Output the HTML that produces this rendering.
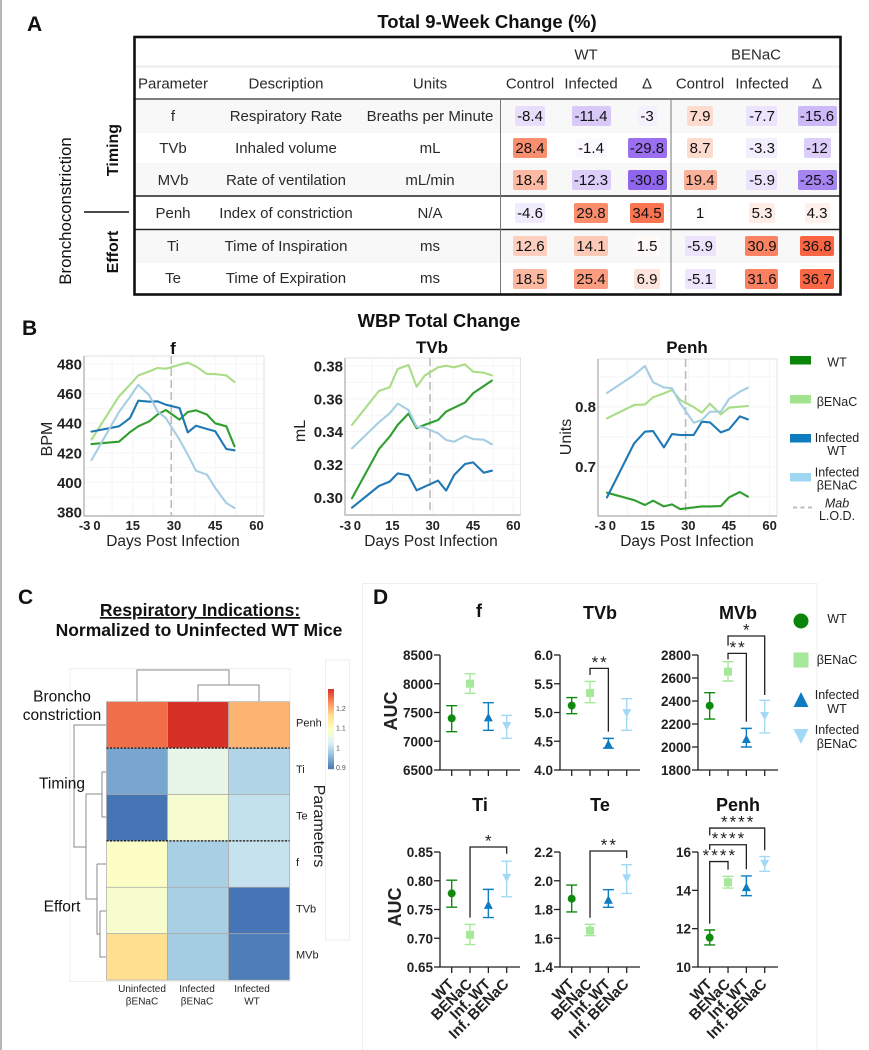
<!DOCTYPE html>
<html lang="en">
<head>
<meta charset="utf-8">
<title>Respiratory figure</title>
<style>
html,body{margin:0;padding:0;background:#fff;}
svg{display:block;font-family:"Liberation Sans",sans-serif;fill:#222;}
.c{text-anchor:middle;}
.r{text-anchor:end;}
.t{font-size:15px;text-anchor:middle;fill:#2a2a2a;}
.n{font-size:15px;text-anchor:middle;fill:#111;}
.panel{font-size:21px;font-weight:bold;fill:#111;}
.ttl{font-weight:bold;text-anchor:middle;fill:#111;}
.lg{font-size:12.5px;text-anchor:middle;fill:#222;}
.hl{font-size:11px;fill:#222;}
</style>
</head>
<body>
<svg id="fig" width="869" height="1050" viewBox="0 0 869 1050" xmlns="http://www.w3.org/2000/svg">
<rect width="869" height="1050" fill="#fff"/>
<rect x="0" y="0" width="2" height="1050" fill="#b8b8b8"/>

<!-- PANEL A -->
<text class="panel" x="27" y="31">A</text>
<text class="ttl" x="487" y="28" font-size="18.5">Total 9-Week Change (%)</text>
<g fill="#f8f8f8">
<rect x="136" y="100" width="704" height="31"/>
<rect x="136" y="165" width="704" height="30"/>
<rect x="136" y="231" width="704" height="31"/>
</g>
<g>
<line x1="136" x2="840" y1="66.5" y2="66.5" stroke="#ececec" stroke-width="2"/>
<line x1="136" x2="840" y1="132" y2="132" stroke="#efefef" stroke-width="1"/>
<line x1="136" x2="840" y1="164" y2="164" stroke="#efefef" stroke-width="1"/>
<line x1="136" x2="840" y1="262" y2="262" stroke="#efefef" stroke-width="1"/>
<line x1="135" x2="840" y1="99" y2="99" stroke="#333" stroke-width="1.2"/>
<line x1="135" x2="840" y1="196" y2="196" stroke="#222" stroke-width="1.4"/>
<line x1="135" x2="840" y1="229.5" y2="229.5" stroke="#222" stroke-width="1.4"/>
<line x1="500.5" x2="500.5" y1="99" y2="294" stroke="#777" stroke-width="1"/>
<line x1="671" x2="671" y1="99" y2="294" stroke="#777" stroke-width="1"/>
</g>
<rect x="134.5" y="37" width="706" height="257.5" fill="none" stroke="#111" stroke-width="2.6"/>

<g>
<text class="t" x="586" y="59.5">WT</text>
<text class="t" x="756" y="59.5">BENaC</text>
</g>
<g>
<text class="t" x="173" y="88.5">Parameter</text>
<text class="t" x="286" y="88.5">Description</text>
<text class="t" x="430" y="88.5">Units</text>
<text class="t" x="530" y="88.5">Control</text>
<text class="t" x="591" y="88.5">Infected</text>
<text class="t" x="647" y="88.5">Δ</text>
<text class="t" x="700" y="88.5">Control</text>
<text class="t" x="762" y="88.5">Infected</text>
<text class="t" x="817" y="88.5">Δ</text>
</g>

<g>
<text class="t" x="173" y="121">f</text><text class="t" x="286" y="121">Respiratory Rate</text><text class="t" x="430" y="121">Breaths per Minute</text>
<rect x="515" y="106" width="30" height="20" rx="2" fill="#e7defb"/><text class="n" x="530" y="121">-8.4</text>
<rect x="572" y="106" width="39" height="20" rx="2" fill="#d9c9f9"/><text class="n" x="591" y="121">-11.4</text>
<rect x="638" y="106" width="19" height="20" rx="2" fill="#f5f0fe"/><text class="n" x="647" y="121">-3</text>
<rect x="687" y="106" width="26" height="20" rx="2" fill="#fddccf"/><text class="n" x="700" y="121">7.9</text>
<rect x="746" y="106" width="31" height="20" rx="2" fill="#ece3fc"/><text class="n" x="762" y="121">-7.7</text>
<rect x="798" y="106" width="39" height="20" rx="2" fill="#cdb9f7"/><text class="n" x="817" y="121">-15.6</text>
</g>
<g>
<text class="t" x="173" y="153">TVb</text><text class="t" x="286" y="153">Inhaled volume</text><text class="t" x="430" y="153">mL</text>
<rect x="513" y="138" width="34" height="20" rx="2" fill="#fa8f70"/><text class="n" x="530" y="153">28.4</text>
<rect x="576" y="138" width="31" height="20" rx="2" fill="#fbf9ff"/><text class="n" x="591" y="153">-1.4</text>
<rect x="628" y="138" width="39" height="20" rx="2" fill="#9a70f0"/><text class="n" x="647" y="153">-29.8</text>
<rect x="687" y="138" width="26" height="20" rx="2" fill="#fddbce"/><text class="n" x="700" y="153">8.7</text>
<rect x="746" y="138" width="31" height="20" rx="2" fill="#f3eefe"/><text class="n" x="762" y="153">-3.3</text>
<rect x="804" y="138" width="27" height="20" rx="2" fill="#dccdf9"/><text class="n" x="817" y="153">-12</text>
</g>
<g>
<text class="t" x="173" y="185">MVb</text><text class="t" x="286" y="185">Rate of ventilation</text><text class="t" x="430" y="185">mL/min</text>
<rect x="513" y="170" width="34" height="20" rx="2" fill="#fdb9a3"/><text class="n" x="530" y="185">18.4</text>
<rect x="572" y="170" width="39" height="20" rx="2" fill="#dccdf9"/><text class="n" x="591" y="185">-12.3</text>
<rect x="628" y="170" width="39" height="20" rx="2" fill="#9166ee"/><text class="n" x="647" y="185">-30.8</text>
<rect x="684" y="170" width="33" height="20" rx="2" fill="#fcb29a"/><text class="n" x="700" y="185">19.4</text>
<rect x="746" y="170" width="31" height="20" rx="2" fill="#ece4fc"/><text class="n" x="762" y="185">-5.9</text>
<rect x="798" y="170" width="39" height="20" rx="2" fill="#a684f1"/><text class="n" x="817" y="185">-25.3</text>
</g>
<g>
<text class="t" x="173" y="218">Penh</text><text class="t" x="286" y="218">Index of constriction</text><text class="t" x="430" y="218">N/A</text>
<rect x="515" y="203" width="30" height="20" rx="2" fill="#f1ebfe"/><text class="n" x="530" y="218">-4.6</text>
<rect x="574" y="203" width="34" height="20" rx="2" fill="#fb8c6c"/><text class="n" x="591" y="218">29.8</text>
<rect x="630" y="203" width="34" height="20" rx="2" fill="#fb7452"/><text class="n" x="647" y="218">34.5</text>
<rect x="695" y="203" width="12" height="20" rx="2" fill="#fffcfb"/><text class="n" x="700" y="218">1</text>
<rect x="749" y="203" width="26" height="20" rx="2" fill="#feece6"/><text class="n" x="762" y="218">5.3</text>
<rect x="805" y="203" width="25" height="20" rx="2" fill="#fef0ea"/><text class="n" x="817" y="218">4.3</text>
</g>
<g>
<text class="t" x="173" y="251">Ti</text><text class="t" x="286" y="251">Time of Inspiration</text><text class="t" x="430" y="251">ms</text>
<rect x="513" y="236" width="34" height="20" rx="2" fill="#fecfbf"/><text class="n" x="530" y="251">12.6</text>
<rect x="574" y="236" width="34" height="20" rx="2" fill="#fdc9b7"/><text class="n" x="591" y="251">14.1</text>
<rect x="634" y="236" width="26" height="20" rx="2" fill="#fffaf8"/><text class="n" x="647" y="251">1.5</text>
<rect x="685" y="236" width="31" height="20" rx="2" fill="#ece4fc"/><text class="n" x="700" y="251">-5.9</text>
<rect x="745" y="236" width="33" height="20" rx="2" fill="#fb8363"/><text class="n" x="762" y="251">30.9</text>
<rect x="800" y="236" width="34" height="20" rx="2" fill="#fa6442"/><text class="n" x="817" y="251">36.8</text>
</g>
<g>
<text class="t" x="173" y="283">Te</text><text class="t" x="286" y="283">Time of Expiration</text><text class="t" x="430" y="283">ms</text>
<rect x="513" y="269" width="34" height="20" rx="2" fill="#fdb8a2"/><text class="n" x="530" y="284">18.5</text>
<rect x="574" y="269" width="34" height="20" rx="2" fill="#fc9c80"/><text class="n" x="591" y="284">25.4</text>
<rect x="634" y="269" width="26" height="20" rx="2" fill="#fde3da"/><text class="n" x="647" y="284">6.9</text>
<rect x="685" y="269" width="31" height="20" rx="2" fill="#eee6fd"/><text class="n" x="700" y="284">-5.1</text>
<rect x="745" y="269" width="33" height="20" rx="2" fill="#fb8060"/><text class="n" x="762" y="284">31.6</text>
<rect x="800" y="269" width="34" height="20" rx="2" fill="#fa6744"/><text class="n" x="817" y="284">36.7</text>
</g>

<text class="c" transform="translate(71,211) rotate(-90)" font-size="16.8" fill="#111">Bronchoconstriction</text>
<text class="ttl" transform="translate(118,150) rotate(-90)" font-size="16">Timing</text>
<text class="ttl" transform="translate(118,252) rotate(-90)" font-size="16">Effort</text>
<line x1="84" x2="129" y1="212" y2="212" stroke="#111" stroke-width="1.6"/>

<!-- PANEL B -->
<text class="panel" x="22" y="335">B</text>
<text class="ttl" x="439" y="327" font-size="18.4">WBP Total Change</text>
<g id="lineCharts"></g>
<text class="ttl" x="173" y="354" font-size="17">f</text>
<text class="ttl" x="432" y="353" font-size="17">TVb</text>
<text class="ttl" x="687" y="353" font-size="17">Penh</text>
<text class="c" transform="translate(52,439) rotate(-90)" font-size="16">BPM</text>
<text class="c" transform="translate(305,431) rotate(-90)" font-size="16">mL</text>
<text class="c" transform="translate(571,437) rotate(-90)" font-size="16">Units</text>
<text class="c" x="173" y="546" font-size="15.5">Days Post Infection</text>
<text class="c" x="431" y="546" font-size="15.5">Days Post Infection</text>
<text class="c" x="687" y="546" font-size="15.5">Days Post Infection</text>

<g>
<rect x="790" y="356" width="21" height="8.5" fill="#0a850a"/>
<text class="lg" x="837" y="366.5">WT</text>
<rect x="790" y="395" width="21" height="8.5" fill="#a3e38f"/>
<text class="lg" x="837" y="406">βENaC</text>
<rect x="790" y="434" width="21" height="8.5" fill="#0f7cc0"/>
<text class="lg" x="837" y="442">Infected</text>
<text class="lg" x="837" y="455">WT</text>
<rect x="790" y="473" width="21" height="8.5" fill="#a0d6f2"/>
<text class="lg" x="837" y="476.5">Infected</text>
<text class="lg" x="837" y="489.5">βENaC</text>
<line x1="793" x2="812" y1="507.5" y2="507.5" stroke="#bdbdbd" stroke-width="2" stroke-dasharray="4 3.5"/>
<text class="lg" x="837" y="507.5" font-style="italic">Mab</text>
<text class="lg" x="837" y="520">L.O.D.</text>
</g>

<!-- PANEL C -->
<text class="panel" x="18" y="604">C</text>
<text class="ttl" x="200" y="616" font-size="17.5" text-decoration="underline">Respiratory Indications:</text>
<text class="ttl" x="199" y="636" font-size="17.5">Normalized to Uninfected WT Mice</text>
<rect x="70" y="668.5" width="220" height="313" fill="none" stroke="#eeeeee"/>
<rect x="325.5" y="660" width="24" height="280" fill="none" stroke="#eeeeee"/>
<path d="M137 701V670H229V685M198 701V685H259V701" fill="none" stroke="#888" stroke-width="1"/>
<path d="M106 725H74V847H86M86 794H102M106 772H102V817H106M86 794V899H97M97 864H106M97 864V934H100M100 911H106M100 911V957H106" fill="none" stroke="#888" stroke-width="1"/>
<g id="heat"></g>
<g font-size="15.5" fill="#111">
<text class="c" x="62" y="701.5">Broncho</text>
<text class="c" x="62" y="720">constriction</text>
<text class="c" x="62" y="788.5">Timing</text>
<text class="c" x="62" y="911.5">Effort</text>
</g>
<text class="c" transform="translate(314,826) rotate(90)" font-size="16">Parameters</text>

<!-- PANEL D -->
<path d="M362.5 1050V583.5H817V1050" fill="none" stroke="#efefef"/>
<text class="panel" x="373" y="604">D</text>
<g id="dots"></g>
<text class="c" transform="translate(397,711) rotate(-90)" font-size="18" font-weight="bold">AUC</text>
<text class="c" transform="translate(401,907) rotate(-90)" font-size="18" font-weight="bold">AUC</text>
<g>
<circle cx="801" cy="621" r="7.5" fill="#0a850a"/>
<text class="lg" x="837" y="623">WT</text>
<rect x="793.5" y="652.5" width="15" height="15" fill="#a6e89a"/>
<text class="lg" x="837" y="664">βENaC</text>
<path d="M801 692L808.5 707H793.5Z" fill="#0f7cc2"/>
<text class="lg" x="837" y="699">Infected</text>
<text class="lg" x="837" y="713">WT</text>
<path d="M793.5 729H808.5L801 744Z" fill="#a3d9f7"/>
<text class="lg" x="837" y="734">Infected</text>
<text class="lg" x="837" y="748">βENaC</text>
</g>

<script>
/* ---------- Panel B data ---------- */
var days = [0, 10, 14, 17, 21, 24, 27, 32, 35, 38, 42, 45, 49, 52];
var lodDay = 29;
var xTickLabels = ['-3', '0', '15', '30', '45', '60'];
var xTickAt = [-2.5, 2, 15, 30, 45, 60];

var fWT = [425.9, 427.5, 434, 437.9, 441.3, 445.8, 448.9, 442.4, 447.6, 448.7, 445.8, 439.9, 437.9, 424.4];
var fBenac = [428.9, 458.2, 466, 472.3, 475, 477.3, 476.8, 479.5, 480.9, 478.4, 473.2, 473.2, 472.3, 467.8];
var fInfWT = [434.3, 437.9, 443.5, 455.2, 454.5, 454.8, 452.5, 450.3, 433.8, 438.3, 436.1, 434.5, 422.6, 421.7];
var fInfBenac = [415.1, 447.6, 457.7, 466, 458.8, 448, 443.5, 428.9, 418.7, 407.9, 405.2, 396.2, 386.1, 382.7];
var fYTicks = [380, 400, 420, 440, 460, 480];

var tvbWT = [0.2994, 0.3294, 0.337, 0.3441, 0.351, 0.3421, 0.3441, 0.3471, 0.3522, 0.3546, 0.3577, 0.3634, 0.3678, 0.3711];
var tvbBenac = [0.3441, 0.3648, 0.367, 0.3782, 0.3806, 0.3674, 0.3741, 0.3792, 0.3802, 0.3792, 0.381, 0.3765, 0.3759, 0.3743];
var tvbInfWT = [0.2937, 0.3069, 0.3096, 0.3146, 0.3134, 0.3043, 0.3065, 0.3102, 0.3041, 0.3136, 0.3203, 0.3213, 0.315, 0.3162];
var tvbInfBenac = [0.3298, 0.3457, 0.3512, 0.3571, 0.3532, 0.343, 0.3425, 0.339, 0.3349, 0.3339, 0.3374, 0.3355, 0.3351, 0.3323];
var tvbYTicks = [0.30, 0.32, 0.34, 0.36, 0.38];

var penhWT = [0.6567, 0.6444, 0.6361, 0.6433, 0.6339, 0.6372, 0.6294, 0.6322, 0.6339, 0.6339, 0.6344, 0.6489, 0.6578, 0.65];
var penhBenac = [0.7806, 0.8028, 0.8039, 0.8156, 0.8222, 0.8278, 0.8111, 0.7994, 0.79, 0.805, 0.7872, 0.7983, 0.8, 0.8011];
var penhInfWT = [0.6489, 0.7389, 0.7583, 0.7594, 0.7322, 0.7544, 0.7528, 0.7528, 0.775, 0.7739, 0.7572, 0.7622, 0.7839, 0.7789];
var penhInfBenac = [0.8228, 0.8528, 0.8678, 0.8406, 0.8322, 0.8306, 0.8056, 0.7733, 0.7778, 0.7917, 0.7917, 0.8128, 0.825, 0.8317];
var penhYTicks = [0.7, 0.8];

/* ---------- Panel C data ---------- */
var heatRows = ['Penh', 'Ti', 'Te', 'f', 'TVb', 'MVb'];
var heatCols = [['Uninfected', 'βENaC'], ['Infected', 'βENaC'], ['Infected', 'WT']];
var heatPenh = [1.25, 1.295, 1.197];
var heatTi = [0.935, 1.042, 0.985];
var heatTe = [0.89, 1.072, 1.0];
var heatF = [1.085, 0.978, 1.003];
var heatTVb = [1.076, 0.978, 0.89];
var heatMVb = [1.16, 0.974, 0.898];
var colorbarTicks = [0.9, 1, 1.1, 1.2];
var colorStops = ['#4575b4', '#91bfdb', '#e0f3f8', '#ffffbf', '#fee090', '#fc8d59', '#d73027'];

/* ---------- Panel D data ---------- */
var groups = ['WT', 'BENaC', 'Inf. WT', 'Inf. BENaC'];
var aucF = [7399, 8001, 7416, 7265];
var aucFLow = [7167, 7833, 7190, 7051];
var aucFHigh = [7619, 8175, 7671, 7450];
var aucFTicks = ['6500', '7000', '7500', '8000', '8500'];

var aucTVb = [5.12, 5.34, 4.45, 4.99];
var aucTVbLow = [4.98, 5.17, 4.38, 4.69];
var aucTVbHigh = [5.26, 5.54, 4.55, 5.24];
var aucTVbTicks = ['4.0', '4.5', '5.0', '5.5', '6.0'];

var aucMVb = [2359, 2655, 2070, 2270];
var aucMVbLow = [2243, 2574, 2000, 2122];
var aucMVbHigh = [2472, 2742, 2162, 2406];
var aucMVbTicks = ['1800', '2000', '2200', '2400', '2600', '2800'];

var aucTi = [0.778, 0.706, 0.758, 0.805];
var aucTiLow = [0.754, 0.689, 0.736, 0.772];
var aucTiHigh = [0.801, 0.724, 0.785, 0.834];
var aucTiTicks = ['0.65', '0.70', '0.75', '0.80', '0.85'];

var aucTe = [1.875, 1.653, 1.868, 2.017];
var aucTeLow = [1.783, 1.618, 1.815, 1.912];
var aucTeHigh = [1.97, 1.697, 1.938, 2.112];
var aucTeTicks = ['1.4', '1.6', '1.8', '2.0', '2.2'];

var aucPenh = [11.53, 14.42, 14.17, 15.39];
var aucPenhLow = [11.15, 14.12, 13.72, 14.99];
var aucPenhHigh = [11.93, 14.73, 14.75, 15.76];
var aucPenhTicks = ['10', '12', '14', '16'];

/* brackets: from group, to group, stars, top value, left end value, right end value */
var sigTVb = [[1, 2, '**', 5.768, 5.652, 4.667]];
var sigMVb = [[1, 3, '*', 2965, 2881, 2452], [1, 2, '**', 2814, 2762, 2220]];
var sigTi = [[1, 3, '*', 0.8587, 0.7358, 0.847]];
var sigTe = [[1, 3, '**', 2.207, 1.743, 2.158]];
var sigPenh = [[0, 3, '****', 17.25, 16.87, 16.09], [0, 2, '****', 16.38, 16.12, 15.1], [0, 1, '****', 15.5, 12.26, 15.08]];

/* ---------- helpers ---------- */
var NS = 'http://www.w3.org/2000/svg';
function mk(tag, parent, attrs, text) {
  var el = document.createElementNS(NS, tag);
  for (var k in attrs) el.setAttribute(k, attrs[k]);
  if (text !== undefined) el.textContent = text;
  parent.appendChild(el);
  return el;
}
var lineColors = ['#2f9e2f', '#a9dd87', '#1f78b4', '#a6cee3'];
var dotColors = ['#0f8a0f', '#a6e89a', '#0f7cc2', '#a3d9f7'];

/* ---------- line charts ---------- */
function drawLineChart(root, cfg) {
  var x = function (d) { return cfg.x0 + cfg.k * d; };
  var y = function (v) { return cfg.yA + (cfg.vA - v) * cfg.yScale; };
  var g = mk('g', root, {});
  
  

  for (var i = 0; i < cfg.gridV.length; i++) {
    var gv = mk('line', g, { x1: x(cfg.gridV[i]), x2: x(cfg.gridV[i]), y1: cfg.top, y2: cfg.bottom, stroke: '#f5f5f5', 'stroke-width': 1 });
    
    
  }
  for (var j = 0; j < cfg.gridH.length; j++) {
    var gh = mk('line', g, { x1: cfg.left, x2: cfg.right, y1: y(cfg.gridH[j]), y2: y(cfg.gridH[j]), stroke: '#f5f5f5', 'stroke-width': 1 });
    
    
  }
  var frame = mk('path', g, { d: 'M' + cfg.left + ' ' + cfg.top + 'H' + cfg.right + 'V' + cfg.bottom, fill: 'none', stroke: '#e2e2e2', 'stroke-width': 1 });
  
  
  var ax = mk('path', g, { d: 'M' + cfg.left + ' ' + cfg.top + 'V' + cfg.bottom + 'H' + cfg.right, fill: 'none', stroke: '#aaa', 'stroke-width': 1.2 });
  
  

  var lod = mk('line', g, { x1: x(lodDay), x2: x(lodDay), y1: cfg.top, y2: cfg.bottom, stroke: '#bdbdbd', 'stroke-width': 1.6, 'stroke-dasharray': '8 4' });
  
  

  for (var s = 0; s < cfg.series.length; s++) {
    var pts = cfg.series[s].map(function (v, idx) { return x(days[idx]).toFixed(1) + ',' + y(v).toFixed(1); }).join(' ');
    var line = mk('polyline', g, { points: pts, fill: 'none', stroke: lineColors[s], 'stroke-width': 2.1, 'stroke-linejoin': 'round', 'stroke-linecap': 'round' });
    
    
  }
  for (var t = 0; t < cfg.yTicks.length; t++) {
    var yl = mk('text', g, { x: cfg.left - 2, y: y(cfg.yTicks[t]) + 5.5, class: 'r', 'font-size': 15, 'font-weight': 'bold' }, cfg.yFmt(cfg.yTicks[t]));
    
    
  }
  for (var u = 0; u < xTickLabels.length; u++) {
    var xl = mk('text', g, { x: x(xTickAt[u]), y: 530, class: 'c', 'font-size': 13, 'font-weight': 'bold' }, xTickLabels[u]);
    
    
  }
}
var lc = document.getElementById('lineCharts');
var dayGrid = [7.5, 15, 22.5, 30, 37.5, 45, 52.5, 60];
drawLineChart(lc, { x0: 91.5, k: 2.75, left: 84, right: 264, top: 356, bottom: 516, yA: 364, vA: 480, yScale: 1.48,
  gridV: dayGrid, gridH: [390, 400, 410, 420, 430, 440, 450, 460, 470, 480], yTicks: fYTicks,
  yFmt: function (v) { return String(v); }, series: [fWT, fBenac, fInfWT, fInfBenac] });
drawLineChart(lc, { x0: 352, k: 2.69, left: 345, right: 520.5, top: 358, bottom: 515, yA: 366, vA: 0.38, yScale: 1641.7,
  gridV: dayGrid, gridH: [0.30, 0.31, 0.32, 0.33, 0.34, 0.35, 0.36, 0.37, 0.38], yTicks: tvbYTicks,
  yFmt: function (v) { return v.toFixed(2); }, series: [tvbWT, tvbBenac, tvbInfWT, tvbInfBenac] });
drawLineChart(lc, { x0: 607, k: 2.71, left: 598, right: 777, top: 359, bottom: 516, yA: 406.7, vA: 0.8, yScale: 600,
  gridV: dayGrid, gridH: [0.65, 0.7, 0.75, 0.8, 0.85], yTicks: penhYTicks,
  yFmt: function (v) { return v.toFixed(1); }, series: [penhWT, penhBenac, penhInfWT, penhInfBenac] });

/* ---------- heatmap ---------- */
function hexRgb(h) { return [parseInt(h.substr(1, 2), 16), parseInt(h.substr(3, 2), 16), parseInt(h.substr(5, 2), 16)]; }
var cbLow = 0.89, cbHigh = 1.295;
function heatColor(v) {
  var p = (v - cbLow) / (cbHigh - cbLow) * (colorStops.length - 1);
  p = Math.max(0, Math.min(colorStops.length - 1.0001, p));
  var i = Math.floor(p), f = p - i, a = hexRgb(colorStops[i]), b = hexRgb(colorStops[i + 1]);
  return 'rgb(' + Math.round(a[0] + (b[0] - a[0]) * f) + ',' + Math.round(a[1] + (b[1] - a[1]) * f) + ',' + Math.round(a[2] + (b[2] - a[2]) * f) + ')';
}
var heatData = [heatPenh, heatTi, heatTe, heatF, heatTVb, heatMVb];
var heat = document.getElementById('heat');
var hL = 106.5, hW = 61, hT = 701.7, hH = 46.4;
heatData.forEach(function (row, r) {
  row.forEach(function (v, c) {
    var cell = mk('rect', heat, { x: hL + c * hW, y: hT + r * hH, width: hW, height: hH, fill: heatColor(v), stroke: '#a9a9a9', 'stroke-width': 0.7 });
    
    
  });
  var rl = mk('text', heat, { x: 296, y: hT + r * hH + 25, class: 'hl' }, heatRows[r]);
  
  
});
[1, 3].forEach(function (r) {
  var d = mk('line', heat, { x1: hL, x2: hL + 3 * hW, y1: hT + r * hH, y2: hT + r * hH, stroke: '#111', 'stroke-width': 1.2, 'stroke-dasharray': '2 1.5' });
  
  
});
var colOffset = [142, 197, 252];
heatCols.forEach(function (c, i) {
  c.forEach(function (word, w) {
    var cl = mk('text', heat, { x: colOffset[i], y: 992 + w * 12.5, class: 'c', 'font-size': 10 }, word);
    
    
  });
});
var cbTop = 689, cbBottom = 769;
for (var q = 0; q < 40; q++) {
  var seg = mk('rect', heat, { x: 328, y: cbTop + q * 2, width: 6, height: 2.2, fill: heatColor(cbHigh - (q + 0.5) / 40 * (cbHigh - cbLow)) });
  
  
}
colorbarTicks.forEach(function (v) {
  var cy = cbTop + (cbHigh - v) / (cbHigh - cbLow) * (cbBottom - cbTop);
  var tl = mk('text', heat, { x: 336, y: cy + 3, 'font-size': 7, fill: '#555' }, String(v));
  
  
});

/* ---------- dot plots ---------- */
function drawDotPlot(root, cfg) {
  var n = cfg.ticks.length;
  var lo = parseFloat(cfg.ticks[0]), hi = parseFloat(cfg.ticks[n - 1]);
  var y = function (v) { return cfg.bottom - (v - lo) / (hi - lo) * 115; };
  var x = function (i) { return cfg.axisX + 11.7 + i * 18.33; };
  var g = mk('g', root, {});
  
  

  var ttl = mk('text', g, { x: cfg.titleX, y: cfg.titleY, class: 'ttl', 'font-size': 18 }, cfg.title);
  
  

  var ax = mk('path', g, { d: 'M' + cfg.axisX + ' ' + (cfg.bottom - 115) + 'V' + cfg.bottom + 'H' + (cfg.axisX + 80), fill: 'none', stroke: '#222', 'stroke-width': 1.3 });
  
  

  cfg.ticks.forEach(function (lab) {
    var v = parseFloat(lab);
    var tk = mk('line', g, { x1: cfg.axisX - 6, x2: cfg.axisX, y1: y(v), y2: y(v), stroke: '#222', 'stroke-width': 1.3 });
    
    
    var tl = mk('text', g, { x: cfg.axisX - 7, y: y(v) + 5, class: 'r', 'font-size': 13.5, 'font-weight': 'bold' }, lab);
    
    
  });

  groups.forEach(function (name, i) {
    var tk = mk('line', g, { x1: x(i), x2: x(i), y1: cfg.bottom, y2: cfg.bottom + 6, stroke: '#222', 'stroke-width': 1.3 });
    
    
    if (cfg.showLabels) {
      var xl = mk('text', g, { transform: 'translate(' + (x(i) + 3) + ',' + (cfg.bottom + 18) + ') rotate(-45)', class: 'r', 'font-size': 15, 'font-weight': 'bold' }, name);
      
      
    }
    var col = dotColors[i];
    var ym = y(cfg.mean[i]), yl = y(cfg.low[i]), yh = y(cfg.high[i]), px = x(i);
    var eb = mk('path', g, { d: 'M' + px + ' ' + yl + 'V' + yh + 'M' + (px - 5.5) + ' ' + yl + 'H' + (px + 5.5) + 'M' + (px - 5.5) + ' ' + yh + 'H' + (px + 5.5), fill: 'none', stroke: col, 'stroke-width': 1.4 });
    
    
    var m;
    if (i === 0) m = mk('circle', g, { cx: px, cy: ym, r: 4, fill: col });
    else if (i === 1) m = mk('rect', g, { x: px - 4, y: ym - 4, width: 8, height: 8, fill: col });
    else if (i === 2) m = mk('path', g, { d: 'M' + px + ' ' + (ym - 4.5) + 'L' + (px + 4.5) + ' ' + (ym + 4) + 'H' + (px - 4.5) + 'Z', fill: col });
    else m = mk('path', g, { d: 'M' + (px - 4.5) + ' ' + (ym - 4) + 'H' + (px + 4.5) + 'L' + px + ' ' + (ym + 4.5) + 'Z', fill: col });
    
    
  });

  cfg.sig.forEach(function (b) {
    var br = mk('path', g, { d: 'M' + x(b[0]) + ' ' + y(b[4]) + 'V' + y(b[3]) + 'H' + x(b[1]) + 'V' + y(b[5]), fill: 'none', stroke: '#222', 'stroke-width': 1.3 });
    
    
    var st = mk('text', g, { x: (x(b[0]) + x(b[1])) / 2 + 1, y: y(b[3]) - 0.5, class: 'c', 'font-size': 17, 'letter-spacing': 2, fill: '#222' }, b[2]);
    
    
  });
}
var dots = document.getElementById('dots');
drawDotPlot(dots, { title: 'f', titleX: 479, titleY: 617, axisX: 440, bottom: 770, ticks: aucFTicks, mean: aucF, low: aucFLow, high: aucFHigh, sig: [], showLabels: false });
drawDotPlot(dots, { title: 'TVb', titleX: 600, titleY: 619, axisX: 560, bottom: 770, ticks: aucTVbTicks, mean: aucTVb, low: aucTVbLow, high: aucTVbHigh, sig: sigTVb, showLabels: false });
drawDotPlot(dots, { title: 'MVb', titleX: 738, titleY: 619, axisX: 698, bottom: 770, ticks: aucMVbTicks, mean: aucMVb, low: aucMVbLow, high: aucMVbHigh, sig: sigMVb, showLabels: false });
drawDotPlot(dots, { title: 'Ti', titleX: 480, titleY: 811, axisX: 440, bottom: 967, ticks: aucTiTicks, mean: aucTi, low: aucTiLow, high: aucTiHigh, sig: sigTi, showLabels: true });
drawDotPlot(dots, { title: 'Te', titleX: 600, titleY: 811, axisX: 560, bottom: 967, ticks: aucTeTicks, mean: aucTe, low: aucTeLow, high: aucTeHigh, sig: sigTe, showLabels: true });
drawDotPlot(dots, { title: 'Penh', titleX: 738, titleY: 811, axisX: 698, bottom: 967, ticks: aucPenhTicks, mean: aucPenh, low: aucPenhLow, high: aucPenhHigh, sig: sigPenh, showLabels: true });
</script>
</svg>
</body>
</html>
